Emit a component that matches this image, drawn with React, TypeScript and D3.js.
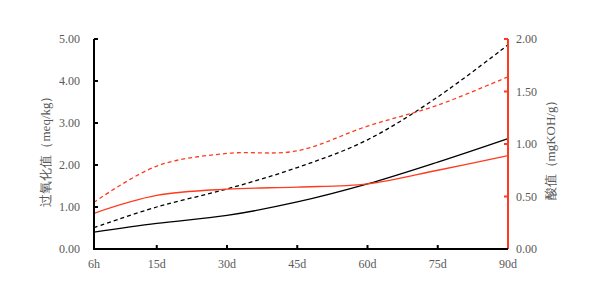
import React from "react";
import * as d3 from "d3";

const categories = ["6h", "15d", "30d", "45d", "60d", "75d", "90d"];
const categoryDays = [1.6, 15, 30, 45, 60, 75, 90];
const peroxideSolid = [0.4, 0.61, 0.8, 1.12, 1.55, 2.07, 2.63];
const peroxideDashed = [0.51, 1.0, 1.43, 1.94, 2.6, 3.62, 4.86];
const acidSolid = [0.34, 0.51, 0.57, 0.59, 0.62, 0.75, 0.89];
const acidDashed = [0.445, 0.79, 0.91, 0.935, 1.17, 1.37, 1.64];
const leftTicks = [0, 1, 2, 3, 4, 5];
const rightTicks = [0, 0.5, 1, 1.5, 2];

const RED = "#ff3b1f";
const TEXT = "#595959";
const FONT = "'Liberation Serif', 'Times New Roman', serif";

export default function App() {
  const W = 600, H = 300;
  const left = 94, right = 508, top = 39, bottom = 249;
  const x = d3.scaleLinear().domain([categoryDays[0], 90]).range([left, right]);
  const yL = d3.scaleLinear().domain([0, 5]).range([bottom, top]);
  const yR = d3.scaleLinear().domain([0, 2]).range([bottom, top]);
  const curve = d3.curveCardinal.tension(0);
  const mk = (vals: number[], y: d3.ScaleLinear<number, number>) =>
    d3.line<number>().x((_, i) => x(categoryDays[i])).y((v) => y(v)).curve(curve)(vals) || "";

  return (
    <svg width={W} height={H} style={{ position: "absolute", left: 0, top: 0 }} fontFamily={FONT}>
      <rect width={W} height={H} fill="#fff" />
      <path d={mk(peroxideSolid, yL)} fill="none" stroke="#000" strokeWidth={1.3} />
      <path d={mk(peroxideDashed, yL)} fill="none" stroke="#000" strokeWidth={1.3} strokeDasharray="4,3" />
      <path d={mk(acidSolid, yR)} fill="none" stroke={RED} strokeWidth={1.3} />
      <path d={mk(acidDashed, yR)} fill="none" stroke={RED} strokeWidth={1.3} strokeDasharray="4,3" />
      <line x1={left} x2={left} y1={top} y2={bottom} stroke="#000" strokeWidth={2} />
      {leftTicks.map((t) => (
        <g key={"l" + t}>
          <line x1={left} x2={left + 4} y1={yL(t)} y2={yL(t)} stroke="#000" strokeWidth={2} />
          <text x={80} y={yL(t)} dy="0.35em" textAnchor="end" fontSize={12} fill={TEXT}>
            {t.toFixed(2)}
          </text>
        </g>
      ))}
      <line x1={right} x2={right} y1={top} y2={bottom} stroke={RED} strokeWidth={2} />
      {rightTicks.map((t) => (
        <g key={"r" + t}>
          <line x1={right - 4} x2={right} y1={yR(t)} y2={yR(t)} stroke={RED} strokeWidth={2} />
          <text x={516} y={yR(t)} dy="0.35em" textAnchor="start" fontSize={12} fill={TEXT}>
            {t.toFixed(2)}
          </text>
        </g>
      ))}
      <line x1={left - 1} x2={right} y1={bottom} y2={bottom} stroke="#000" strokeWidth={2} />
      {categories.map((c, i) => (
        <g key={c}>
          {i > 0 && i < categories.length - 1 && (
            <line x1={x(categoryDays[i])} x2={x(categoryDays[i])} y1={bottom} y2={bottom - 4} stroke="#000" strokeWidth={2} />
          )}
          <text x={x(categoryDays[i])} y={bottom + 19} textAnchor="middle" fontSize={12} fill={TEXT}>
            {c}
          </text>
        </g>
      ))}
      <text transform={`translate(50,148) rotate(-90)`} textAnchor="middle" fontSize={13} fill={TEXT}>
        过氧化值（meq/kg）
      </text>
      <text transform={`translate(555,147) rotate(-90)`} textAnchor="middle" fontSize={13} fill={TEXT}>
        酸值（mgKOH/g）
      </text>
    </svg>
  );
}
